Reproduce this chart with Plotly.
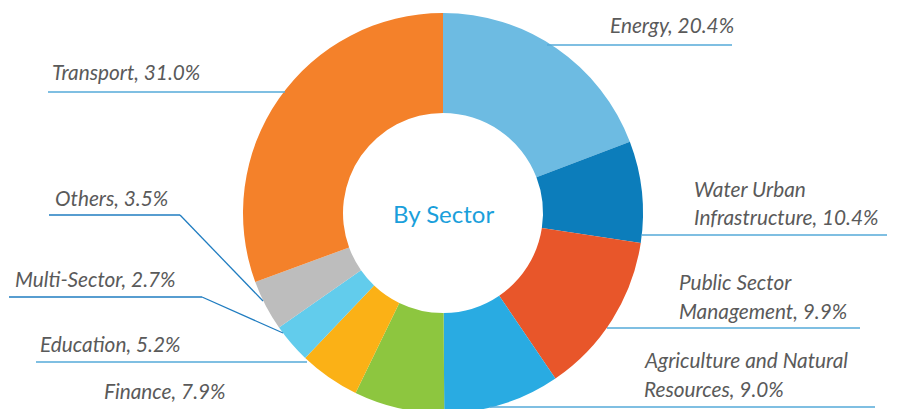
import plotly.graph_objects as go

# ---- data ----
sectors = ["Energy", "Water Urban Infrastructure", "Public Sector Management",
           "Agriculture and Natural Resources", "Finance", "Education",
           "Multi-Sector", "Others", "Transport"]
# slice sizes as drawn in the picture (percent)
drawn_share = [19.2, 8.2, 13.1, 9.4, 7.3, 4.9, 3.2, 4.1, 30.6]
# percentages printed in the labels
label_pct = ["20.4%", "10.4%", "9.9%", "9.0%", "7.9%", "5.2%", "2.7%", "3.5%", "31.0%"]
colors = ["#6dbbe2", "#0c7dbb", "#e8562a", "#29abe2", "#8dc63f",
          "#fbb116", "#62ccec", "#bdbdbd", "#f4812a"]
center_title = "By Sector"

W, H = 899, 430
CX, CY, R = 443, 213, 200


def px(x):
    return x / W


def py(y):
    return (H - y) / H


fig = go.Figure()
fig.add_trace(go.Pie(
    labels=sectors,
    values=drawn_share,
    sort=False,
    direction="clockwise",
    rotation=0,
    hole=0.5,
    marker=dict(colors=colors, line=dict(width=0)),
    textinfo="none",
    hoverinfo="label",
    showlegend=False,
    domain=dict(x=[px(CX - R), px(CX + R)], y=[py(CY + R), py(CY - R)]),
))

label_font = dict(family="Lato", size=20.8, color="#5a5a5a", style="italic")

# label lines: (text lines, anchor x, xanchor, centre y of each line)
label_specs = [
    ([f"Energy, {label_pct[0]}"], 736, "right", [25]),
    (["Water Urban", f"Infrastructure, {label_pct[1]}"], 692, "left", [188, 216]),
    (["Public Sector", f"Management, {label_pct[2]}"], 677, "left", [281, 310]),
    (["Agriculture and Natural", f"Resources, {label_pct[3]}"], 642, "left", [360, 388]),
    ([f"Finance, {label_pct[4]}"], 102, "left", [390]),
    ([f"Education, {label_pct[5]}"], 38, "left", [343]),
    ([f"Multi-Sector, {label_pct[6]}"], 13, "left", [278]),
    ([f"Others, {label_pct[7]}"], 53, "left", [197]),
    ([f"Transport, {label_pct[8]}"], 50, "left", [71]),
]

annotations = []
for lines, x, xa, ys in label_specs:
    for t, y in zip(lines, ys):
        annotations.append(dict(
            text=t, x=px(x), y=py(y), xref="paper", yref="paper",
            xanchor=xa, yanchor="middle", showarrow=False, font=label_font))

annotations.append(dict(
    text=center_title, x=px(CX), y=py(CY), xref="paper", yref="paper",
    xanchor="center", yanchor="middle", showarrow=False,
    font=dict(family="Lato", size=24, color="#1a9fdb")))

underline_color = "#55aad9"
diag_color = "#1f7cc0"
# leader lines in pixel coordinates: list of polyline points
leaders = [
    ([(547, 45), (732, 45)], underline_color),
    ([(642, 235), (887, 235)], underline_color),
    ([(607, 328), (860, 328)], underline_color),
    ([(490, 407), (875, 407)], underline_color),
    ([(36, 362), (307, 362)], underline_color),
    ([(9, 297), (202, 297), (283, 333)], diag_color),
    ([(49, 215), (180, 215), (263, 301)], diag_color),
    ([(48, 92), (285, 92)], underline_color),
]
shapes = []
for pts, col in leaders:
    for (x0, y0), (x1, y1) in zip(pts[:-1], pts[1:]):
        shapes.append(dict(type="line", xref="paper", yref="paper",
                           x0=px(x0), y0=py(y0), x1=px(x1), y1=py(y1),
                           line=dict(color=col, width=1.3)))

fig.update_layout(
    width=W, height=H,
    margin=dict(l=0, r=0, t=0, b=0),
    paper_bgcolor="white", plot_bgcolor="white",
    annotations=annotations, shapes=shapes,
)

fig.write_html(
    "out.html",
    config={"displayModeBar": False},
    post_script="document.body.style.margin='0';document.body.style.overflow='hidden';document.documentElement.style.overflow='hidden';",
)
